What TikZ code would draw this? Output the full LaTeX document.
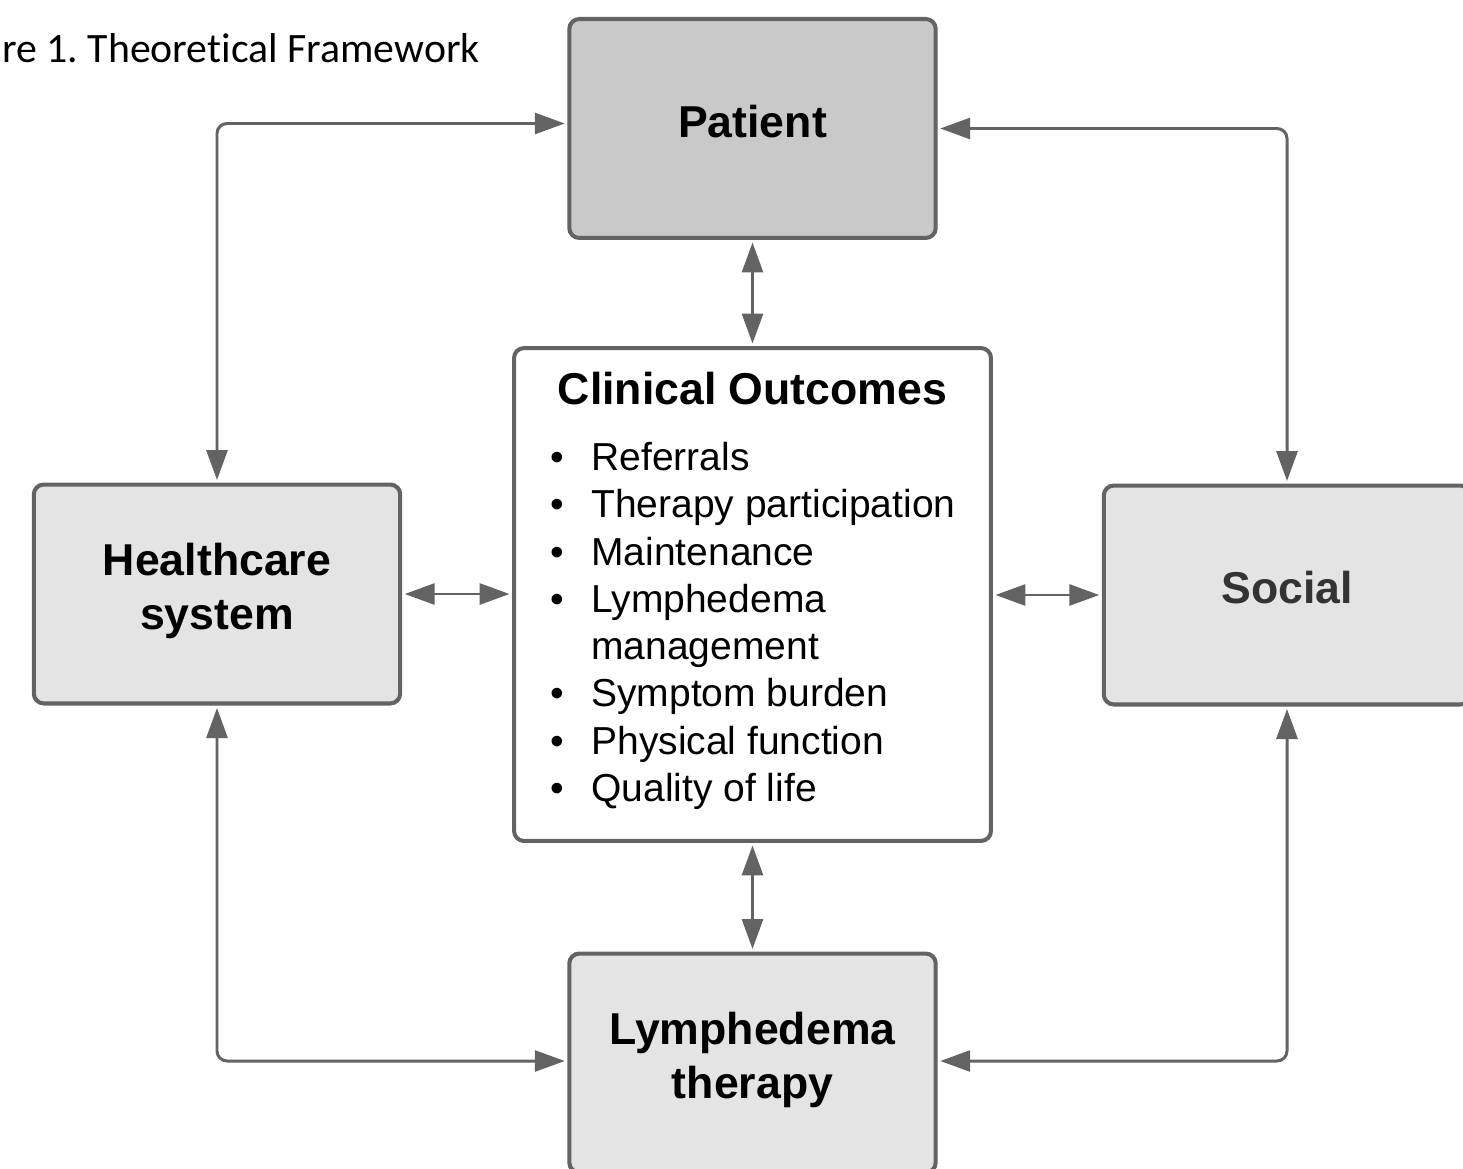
\documentclass[tikz,border=0pt]{standalone}
\usepackage{fontspec}
\setmainfont{Liberation Sans}
\newfontfamily\capfont[Ligatures=NoCommon]{Carlito}
\usepackage{xcolor}
\usetikzlibrary{arrows.meta,positioning}
\definecolor{edgegray}{HTML}{636363}
\definecolor{boxgray}{HTML}{E4E4E4}
\definecolor{topgray}{HTML}{C9C9C9}
\frenchspacing

\begin{document}
\begin{tikzpicture}[x=0.02cm,y=-0.02cm,
    blk/.style={draw=edgegray,line width=2.3pt,rounded corners=0.2cm,fill=boxgray,
      minimum width=7.33cm,minimum height=4.38cm,inner sep=0pt,text depth=0.3cm,
      font=\fontsize{25.4}{31}\selectfont\bfseries,align=center},
    link/.style={draw=edgegray,line width=1.7pt,rounded corners=0.2cm,
      shorten <=0.05cm,shorten >=0.05cm,
      {Triangle[length=0.6cm,width=0.42cm]}-{Triangle[length=0.6cm,width=0.42cm]}}]
      \useasboundingbox (0,0) rectangle (1463,1169);
      % caption, cut at the left edge
      \node[font=\capfont\fontsize{23.8}{28}\selectfont,anchor=base east,inner sep=0pt] (cap) at (480,63){re 1. Theoretical Framework};
      % boxes
      \node[blk,fill=topgray] (pat) at (752.5,128.5){Patient};
      \node[blk] (hc) at (217,594){Healthcare\\system};
      \node[blk,text=black!80] (soc) at (1287,595){Social};
      \node[blk] (lym) at (752.5,1063){Lymphedema\\therapy};
      \node[blk,fill=white,minimum width=9.54cm,minimum height=9.86cm,text depth=0pt] (co) at (752.5,594.5){};
      \node[font=\fontsize{25.4}{31}\selectfont\bfseries,inner sep=0pt] (cotitle) at (752.5,389){Clinical Outcomes};
      \node[font=\fontsize{22.2}{26.9}\selectfont,anchor=north west,align=left,inner sep=0pt] (colist) at (550,442){%
        \makebox[0.82cm][l]{\textbullet}Referrals\\
        \makebox[0.82cm][l]{\textbullet}Therapy participation\\
        \makebox[0.82cm][l]{\textbullet}Maintenance\\
        \makebox[0.82cm][l]{\textbullet}Lymphedema\\
        \hspace*{0.82cm}management\\
        \makebox[0.82cm][l]{\textbullet}Symptom burden\\
        \makebox[0.82cm][l]{\textbullet}Physical function\\
        \makebox[0.82cm][l]{\textbullet}Quality of life};
      % connectors
      \draw[link] ([yshift=0.1cm]pat.west) -| (hc.north);
      \draw[link] (pat.east) -| (soc.north);
      \draw[link] (hc.south) |- ([yshift=0.04cm]lym.west);
      \draw[link] (soc.south) |- ([yshift=0.04cm]lym.east);
      \draw[link] (pat.south) -- (co.north);
      \draw[link] (co.south) -- (lym.north);
      \draw[link] (hc.east) -- (hc.east -| co.west);
      \draw[link] (co.east |- soc.west) -- (soc.west);
    \end{tikzpicture}
\end{document}
